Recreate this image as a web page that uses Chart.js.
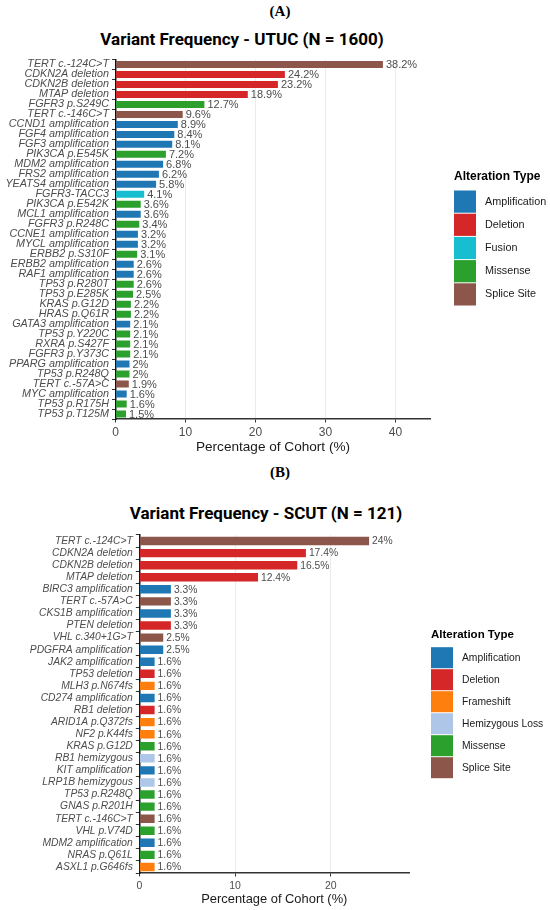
<!DOCTYPE html>
<html lang="en">
<head>
<meta charset="UTF-8">
<title>Variant Frequency - UTUC / SCUT</title>
<script src="https://cdn.jsdelivr.net/npm/chart.js"></script>
<style>
  html, body { margin: 0; padding: 0; background: #fff; }
  body { width: 550px; height: 910px; position: relative; overflow: hidden; }
  .panel-tag { position: absolute; width: 550px; left: 5px; text-align: center;
               font: bold 15px "Liberation Serif", "DejaVu Serif", serif; color: #000; }
  .chart-title { position: absolute; width: 400px; text-align: center; white-space: nowrap;
                 font: bold 17px Roboto, "Liberation Sans", sans-serif; color: #000; line-height: 20px; }
  .box { position: absolute; left: 0; width: 550px; }
</style>
</head>
<body>
<div class="panel-tag" style="top:3px">(A)</div>
<div class="chart-title" style="left:42px; top:29px">Variant Frequency - UTUC (N = 1600)</div>
<div class="box" style="top:50px; height:410px"><canvas id="utucChart"></canvas></div>

<div class="panel-tag" style="top:464px">(B)</div>
<div class="chart-title" style="left:66px; top:503px">Variant Frequency - SCUT (N = 121)</div>
<div class="box" style="top:525px; height:385px"><canvas id="scutChart"></canvas></div>

<script>
// colours per alteration type
const typeColors = {
  'Amplification': '#1F77B4',
  'Deletion': '#D62728',
  'Fusion': '#17BECF',
  'Frameshift': '#FF7F0E',
  'Hemizygous Loss': '#AEC7E8',
  'Missense': '#2CA02C',
  'Splice Site': '#8C564B'
};

// (A) UTUC
const utucLabels = [
  'TERT c.-124C>T', 'CDKN2A deletion', 'CDKN2B deletion', 'MTAP deletion', 'FGFR3 p.S249C',
  'TERT c.-146C>T', 'CCND1 amplification', 'FGF4 amplification', 'FGF3 amplification', 'PIK3CA p.E545K',
  'MDM2 amplification', 'FRS2 amplification', 'YEATS4 amplification', 'FGFR3-TACC3', 'PIK3CA p.E542K',
  'MCL1 amplification', 'FGFR3 p.R248C', 'CCNE1 amplification', 'MYCL amplification', 'ERBB2 p.S310F',
  'ERBB2 amplification', 'RAF1 amplification', 'TP53 p.R280T', 'TP53 p.E285K', 'KRAS p.G12D',
  'HRAS p.Q61R', 'GATA3 amplification', 'TP53 p.Y220C', 'RXRA p.S427F', 'FGFR3 p.Y373C',
  'PPARG amplification', 'TP53 p.R248Q', 'TERT c.-57A>C', 'MYC amplification', 'TP53 p.R175H',
  'TP53 p.T125M'
];
const utucValues = [
  38.2, 24.2, 23.2, 18.9, 12.7,
  9.6, 8.9, 8.4, 8.1, 7.2,
  6.8, 6.2, 5.8, 4.1, 3.6,
  3.6, 3.4, 3.2, 3.2, 3.1,
  2.6, 2.6, 2.6, 2.5, 2.2,
  2.2, 2.1, 2.1, 2.1, 2.1,
  2, 2, 1.9, 1.6, 1.6,
  1.5
];
const utucTypes = [
  'Splice Site', 'Deletion', 'Deletion', 'Deletion', 'Missense',
  'Splice Site', 'Amplification', 'Amplification', 'Amplification', 'Missense',
  'Amplification', 'Amplification', 'Amplification', 'Fusion', 'Missense',
  'Amplification', 'Missense', 'Amplification', 'Amplification', 'Missense',
  'Amplification', 'Amplification', 'Missense', 'Missense', 'Missense',
  'Missense', 'Amplification', 'Missense', 'Missense', 'Missense',
  'Amplification', 'Missense', 'Splice Site', 'Amplification', 'Missense',
  'Missense'
];
const utucLegend = ['Amplification', 'Deletion', 'Fusion', 'Missense', 'Splice Site'];
const utucTicks = [0, 10, 20, 30, 40];

// (B) SCUT
const scutLabels = [
  'TERT c.-124C>T', 'CDKN2A deletion', 'CDKN2B deletion', 'MTAP deletion', 'BIRC3 amplification',
  'TERT c.-57A>C', 'CKS1B amplification', 'PTEN deletion', 'VHL c.340+1G>T', 'PDGFRA amplification',
  'JAK2 amplification', 'TP53 deletion', 'MLH3 p.N674fs', 'CD274 amplification', 'RB1 deletion',
  'ARID1A p.Q372fs', 'NF2 p.K44fs', 'KRAS p.G12D', 'RB1 hemizygous', 'KIT amplification',
  'LRP1B hemizygous', 'TP53 p.R248Q', 'GNAS p.R201H', 'TERT c.-146C>T', 'VHL p.V74D',
  'MDM2 amplification', 'NRAS p.Q61L', 'ASXL1 p.G646fs'
];
const scutValues = [
  24, 17.4, 16.5, 12.4, 3.3,
  3.3, 3.3, 3.3, 2.5, 2.5,
  1.6, 1.6, 1.6, 1.6, 1.6,
  1.6, 1.6, 1.6, 1.6, 1.6,
  1.6, 1.6, 1.6, 1.6, 1.6,
  1.6, 1.6, 1.6
];
const scutTypes = [
  'Splice Site', 'Deletion', 'Deletion', 'Deletion', 'Amplification',
  'Splice Site', 'Amplification', 'Deletion', 'Splice Site', 'Amplification',
  'Amplification', 'Deletion', 'Frameshift', 'Amplification', 'Deletion',
  'Frameshift', 'Frameshift', 'Missense', 'Hemizygous Loss', 'Amplification',
  'Hemizygous Loss', 'Missense', 'Missense', 'Splice Site', 'Missense',
  'Amplification', 'Missense', 'Frameshift'
];
const scutLegend = ['Amplification', 'Deletion', 'Frameshift', 'Hemizygous Loss', 'Missense', 'Splice Site'];
const scutTicks = [0, 10, 20];

// value text at the end of each bar
const barValueLabels = {
  id: 'barValueLabels',
  afterDatasetsDraw(chart, args, opts) {
    const ctx = chart.ctx;
    const meta = chart.getDatasetMeta(0);
    const values = chart.data.datasets[0].data;
    ctx.save();
    ctx.font = opts.size + 'px "Liberation Sans", Arial, sans-serif';
    ctx.fillStyle = '#4D4D4D';
    ctx.textAlign = 'left';
    ctx.textBaseline = 'middle';
    meta.data.forEach((bar, i) => {
      ctx.fillText(values[i] + '%', bar.x + 3, bar.y + 0.5);
    });
    ctx.restore();
  }
};

// ggplot-like legend with square keys
const typeLegend = {
  id: 'typeLegend',
  afterDraw(chart, args, opts) {
    const ctx = chart.ctx;
    ctx.save();
    ctx.fillStyle = '#000';
    ctx.textBaseline = 'middle';
    ctx.font = 'bold ' + opts.titleSize + 'px "Liberation Sans", Arial, sans-serif';
    ctx.fillText('Alteration Type', opts.x, opts.titleY);
    ctx.font = opts.size + 'px "Liberation Sans", Arial, sans-serif';
    opts.items.forEach((name, i) => {
      const top = opts.top + i * opts.keyH;
      ctx.fillStyle = typeColors[name];
      ctx.fillRect(opts.x, top + 0.5, 22, opts.keyH - 1);
      ctx.fillStyle = '#1A1A1A';
      ctx.fillText(name, opts.x + 31, top + opts.keyH / 2);
    });
    ctx.restore();
  }
};

function makeChart(id, cfg) {
  return new Chart(document.getElementById(id), {
    type: 'bar',
    data: {
      labels: cfg.labels,
      datasets: [{
        data: cfg.values,
        backgroundColor: cfg.types.map(t => typeColors[t]),
        barPercentage: 0.7,
        categoryPercentage: 1
      }]
    },
    options: {
      indexAxis: 'y',
      responsive: true,
      maintainAspectRatio: false,
      animation: false,
      layout: { padding: { top: cfg.padTop, right: cfg.padRight, bottom: 0, left: 0 } },
      scales: {
        x: {
          min: 0,
          max: cfg.max,
          afterFit: s => { s.height = cfg.xHeight; },
          afterBuildTicks: s => { s.ticks = cfg.ticks.map(v => ({ value: v })); },
          ticks: {
            color: '#4D4D4D',
            padding: 3,
            font: { family: '"Liberation Sans", Arial, sans-serif', size: cfg.tickSize }
          },
          grid: { color: '#EBEBEB', tickColor: '#333', tickLength: 3.5 },
          border: { color: '#333', width: 1.5 },
          title: {
            display: true,
            text: 'Percentage of Cohort (%)',
            color: '#1A1A1A',
            padding: { top: 0, bottom: cfg.titlePad },
            font: { family: '"Liberation Sans", Arial, sans-serif', size: cfg.axisTitleSize }
          }
        },
        y: {
          afterFit: s => { s.width = cfg.yWidth; },
          ticks: {
            autoSkip: false,
            color: '#4D4D4D',
            padding: 3,
            font: { family: '"Liberation Sans", Arial, sans-serif', size: cfg.labelSize, style: 'italic' }
          },
          grid: { drawOnChartArea: false, tickColor: '#333', tickLength: 3.5 },
          border: { color: '#111', width: 1.5 }
        }
      },
      plugins: {
        legend: { display: false },
        tooltip: { enabled: false },
        barValueLabels: { size: cfg.valueSize },
        typeLegend: cfg.legend
      }
    },
    plugins: [barValueLabels, typeLegend]
  });
}

makeChart('utucChart', {
  labels: utucLabels, values: utucValues, types: utucTypes, ticks: utucTicks,
  max: 45, padTop: 9, padRight: 119.5, yWidth: 115.5, xHeight: 41,
  tickSize: 12, labelSize: 10.8, valueSize: 11, axisTitleSize: 13.6, titlePad: 5,
  legend: { items: utucLegend, x: 454, titleY: 127, top: 140, keyH: 23.2, size: 10.8, titleSize: 12 }
});

makeChart('scutChart', {
  labels: scutLabels, values: scutValues, types: scutTypes, ticks: scutTicks,
  max: 28.2, padTop: 10, padRight: 140.7, yWidth: 139.3, xHeight: 37,
  tickSize: 10.5, labelSize: 10.3, valueSize: 10.3, axisTitleSize: 12.9, titlePad: 3,
  legend: { items: scutLegend, x: 431, titleY: 110, top: 121.7, keyH: 22, size: 10.3, titleSize: 11.5 }
});
</script>
</body>
</html>
